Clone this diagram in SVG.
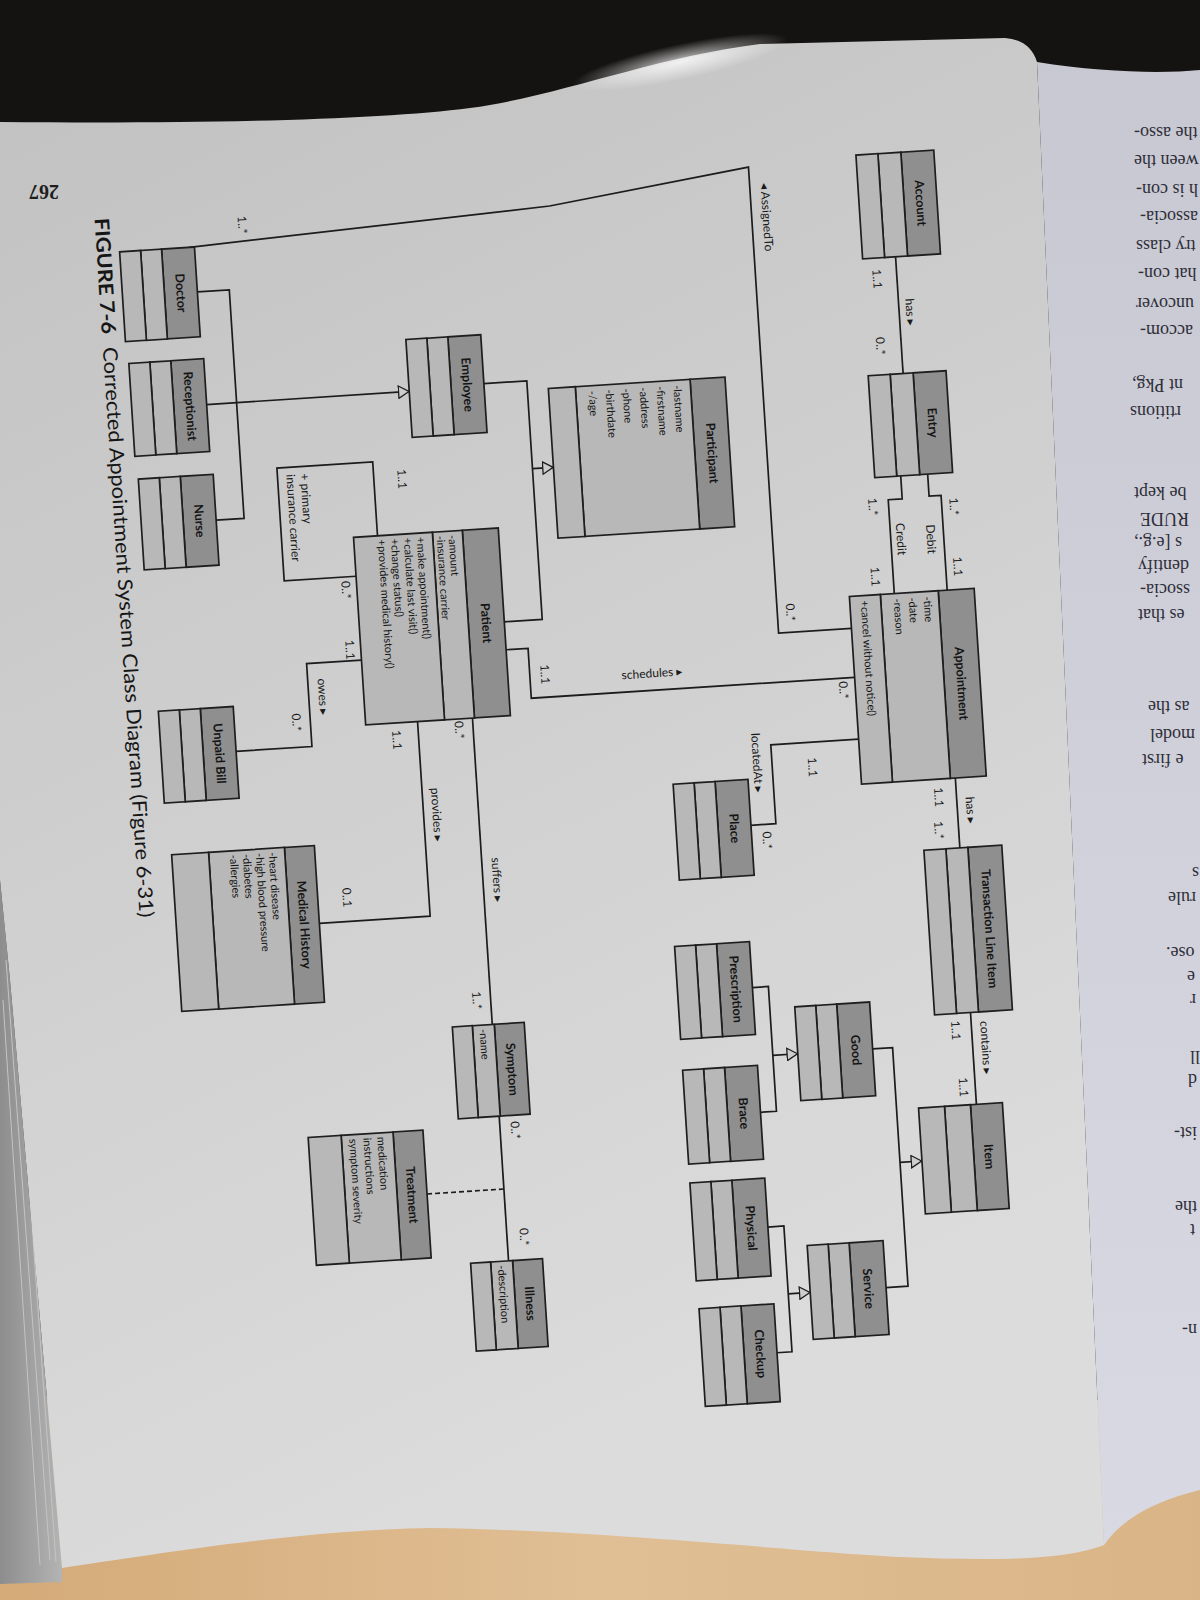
<svg xmlns="http://www.w3.org/2000/svg" width="1200" height="1600" viewBox="0 0 1200 1600">
<defs>
  <linearGradient id="paper" x1="0" y1="0" x2="0.35" y2="1">
    <stop offset="0" stop-color="#c1c1c1"/>
    <stop offset="0.5" stop-color="#cfcfcf"/>
    <stop offset="1" stop-color="#dcdcdd"/>
  </linearGradient>
  <linearGradient id="facing" x1="0" y1="0" x2="0" y2="1">
    <stop offset="0" stop-color="#c8c8d2"/>
    <stop offset="1" stop-color="#d9d9e3"/>
  </linearGradient>
  <linearGradient id="wood" x1="0" y1="0" x2="1" y2="0">
    <stop offset="0" stop-color="#d4aa78"/>
    <stop offset="0.5" stop-color="#e0bf95"/>
    <stop offset="1" stop-color="#d9b486"/>
  </linearGradient>
  <linearGradient id="stack" x1="0" y1="0" x2="1" y2="0">
    <stop offset="0" stop-color="#8d8d8d"/>
    <stop offset="1" stop-color="#b4b4b4"/>
  </linearGradient>
  <radialGradient id="glare" cx="0.5" cy="0.5" r="0.5">
    <stop offset="0" stop-color="#ffffff" stop-opacity="0.75"/>
    <stop offset="1" stop-color="#ffffff" stop-opacity="0"/>
  </radialGradient>
  <marker id="gen" viewBox="0 0 12 14" refX="11.5" refY="7" markerWidth="12" markerHeight="14" markerUnits="userSpaceOnUse" orient="auto">
    <path d="M0.8,0.8 L11.2,7 L0.8,13.2 Z" fill="#cdcdcd" stroke="#1e1e1e" stroke-width="1.3"/>
  </marker>
  <style>
    .hd{fill:#8f8f8f;stroke:#1e1e1e;stroke-width:1.7}
    .cp{fill:#b8b8b8;stroke:#1e1e1e;stroke-width:1.7}
    .nm{font-family:Lato,"Open Sans",sans-serif;font-size:12.5px;font-weight:700;fill:#151515;text-anchor:middle}
    .at{font-family:Lato,"Open Sans",sans-serif;font-size:11px;fill:#151515}
    .lb{font-family:Lato,"Open Sans","DejaVu Sans",sans-serif;font-size:12px;fill:#1a1a1a;text-anchor:middle}
    .ln{fill:none;stroke:#1c1c1c;stroke-width:1.7}
    .dash{fill:none;stroke:#1c1c1c;stroke-width:1.6;stroke-dasharray:5 3}
    .fp{font-family:"Liberation Serif",serif;font-size:18px;fill:#2e2e38;text-anchor:end}
    .cap{font-family:Lato,"Open Sans",sans-serif;font-size:20px;fill:#161616}
  </style>
</defs>

<!-- table and surroundings -->
<rect x="0" y="0" width="1200" height="1600" fill="#151312"/>
<rect x="0" y="1400" width="1200" height="200" fill="url(#wood)"/>

<!-- facing page -->
<path d="M1037,62 C1100,72 1160,74 1200,70 L1200,1490 C1160,1500 1125,1515 1104,1545 Z" fill="url(#facing)"/>

<!-- page edges of the book block -->
<path d="M0,880 L10,980 L62,1568 L62,1582 L0,1584 Z" fill="url(#stack)"/>
<path d="M6,960 L50,1560 M14,970 L56,1562 M3,1000 L40,1565" stroke="#c4c4c4" stroke-width="1" fill="none"/>

<!-- diagram page -->
<path d="M0,122 C200,124 380,120 470,108 C560,96 650,58 760,44 L1005,38 Q1030,40 1037,62 L1104,1545 C1060,1562 980,1560 900,1557 C800,1552 600,1530 430,1528 C300,1530 150,1555 62,1568 L10,980 L0,880 Z" fill="url(#paper)"/>
<ellipse cx="680" cy="62" rx="110" ry="18" fill="url(#glare)" transform="rotate(-12 680 62)"/>

<!-- facing page text -->
<g id="facing-text" class="fp">
  <text x="1134" y="127" transform="rotate(180 1134 127)">the asso-</text>
  <text x="1134" y="155" transform="rotate(180 1134 155)">ween the</text>
  <text x="1136" y="184" transform="rotate(180 1136 184)">h is con-</text>
  <text x="1140" y="211" transform="rotate(180 1140 211)">associa-</text>
  <text x="1136" y="240" transform="rotate(180 1136 240)">try class</text>
  <text x="1138" y="268" transform="rotate(180 1138 268)">hat con-</text>
  <text x="1136" y="298" transform="rotate(180 1136 298)">uncover</text>
  <text x="1140" y="325" transform="rotate(180 1140 325)">accom-</text>
  <text x="1132" y="379" transform="rotate(180 1132 379)">nt Pkg,</text>
  <text x="1130" y="406" transform="rotate(180 1130 406)">rtitions</text>
  <text x="1134" y="487" transform="rotate(180 1134 487)">be kept</text>
  <text x="1140" y="513" transform="rotate(180 1140 513)">RUDE</text>
  <text x="1134" y="537" transform="rotate(180 1134 537)">s [e.g.,</text>
  <text x="1138" y="560" transform="rotate(180 1138 560)">dentify</text>
  <text x="1140" y="584" transform="rotate(180 1140 584)">ssocia-</text>
  <text x="1138" y="609" transform="rotate(180 1138 609)">es that</text>
  <text x="1148" y="701" transform="rotate(180 1148 701)">as the</text>
  <text x="1150" y="729" transform="rotate(180 1150 729)">model</text>
  <text x="1142" y="754" transform="rotate(180 1142 754)">e first</text>
  <text x="1192" y="867" transform="rotate(180 1192 867)">s</text>
  <text x="1168" y="892" transform="rotate(180 1168 892)">rule</text>
  <text x="1166" y="947" transform="rotate(180 1166 947)">ose.</text>
  <text x="1187" y="971" transform="rotate(180 1187 971)">e</text>
  <text x="1190" y="994" transform="rotate(180 1190 994)">r</text>
  <text x="1190" y="1051" transform="rotate(180 1190 1051)">ll</text>
  <text x="1188" y="1074" transform="rotate(180 1188 1074)">d</text>
  <text x="1174" y="1127" transform="rotate(180 1174 1127)">ist-</text>
  <text x="1175" y="1201" transform="rotate(180 1175 1201)">the</text>
  <text x="1190" y="1224" transform="rotate(180 1190 1224)">t</text>
  <text x="1182" y="1324" transform="rotate(180 1182 1324)">n-</text>
</g>

<!-- page number -->
<text x="44" y="185" transform="rotate(180 44 185)" font-family="'Liberation Serif',serif" font-size="20" font-weight="700" fill="#1e1e1e" text-anchor="middle">267</text>

<!-- the figure, printed sideways on the page -->
<g id="figure" transform="rotate(-3.7 600 800) translate(1100 0) rotate(90)">

  <text class="cap" x="187" y="967" textLength="701" lengthAdjust="spacingAndGlyphs"><tspan font-weight="700">FIGURE 7-6</tspan><tspan dx="12">Corrected Appointment System Class Diagram (Figure 6-31)</tspan></text>

  <g id="connectors">
    <path class="ln" d="M222,874 L204,512 L178,311 L645,311 L645,238"/>
    <path class="ln" d="M277,170 L394,170"/>
    <path class="ln" d="M496,152 L518,152 L518,140 L613,140"/>
    <path class="ln" d="M496,179 L519,179 L519,193 L613,193"/>
    <path class="ln" d="M801,144 L871,144"/>
    <path class="ln" d="M1036,144 L1128,144"/>
    <path class="ln" d="M644,584 L644,562 L694,562 L694,238"/>
    <path class="ln" d="M756,238 L756,326 L835,326 L835,351"/>
    <path class="ln" d="M377,589 L377,546 L616,546 L616,584"/>
    <path class="ln" d="M465,546 L465,525" marker-end="url(#gen)"/>
    <path class="ln" d="M267,869 L267,837 L496,837 L496,865"/>
    <path class="ln" d="M380,867 L380,664" marker-end="url(#gen)"/>
    <path class="ln" d="M522,705 L448,705 L448,801 L561,801 L561,729"/>
    <path class="ln" d="M645,729 L645,784 L728,784 L728,860"/>
    <path class="ln" d="M710,677 L905,677 L905,788"/>
    <path class="ln" d="M710,622 L1017,622"/>
    <path class="ln" d="M1109,621 L1254,621"/>
    <path class="dash" d="M1182,621 L1182,698"/>
    <path class="ln" d="M1066,244 L1066,224 L1305,224 L1305,246"/>
    <path class="ln" d="M1181,224 L1181,202" marker-end="url(#gen)"/>
    <path class="ln" d="M997,360 L997,344 L1122,344 L1122,360"/>
    <path class="ln" d="M1066,344 L1066,319" marker-end="url(#gen)"/>
    <path class="ln" d="M1237,360 L1237,344 L1363,344 L1363,359"/>
    <path class="ln" d="M1305,344 L1305,322" marker-end="url(#gen)"/>

    <g id="connector-labels" class="lb">
      <text x="203" y="824">1..*</text>
      <text x="229" y="300">◂ AssignedTo</text>
      <text x="625" y="302">0..*</text>
      <text x="298" y="194">1..1</text>
      <text x="333" y="163">has ▸</text>
      <text x="365" y="195">0..*</text>
      <text x="530" y="132">1..*</text>
      <text x="561" y="157">Debit</text>
      <text x="590" y="132">1..1</text>
      <text x="525" y="213">1..*</text>
      <text x="559" y="187">Credit</text>
      <text x="595" y="215">1..1</text>
      <text x="819" y="166">1..1</text>
      <text x="834" y="135">has ▸</text>
      <text x="852" y="168">1..*</text>
      <text x="1053" y="164">1..1</text>
      <text x="1072" y="135">contains ▸</text>
      <text x="1110" y="160">1..1</text>
      <text x="671" y="551">1..1</text>
      <text x="681" y="440" transform="rotate(-90 681 440)">schedules ▸</text>
      <text x="706" y="254">0..*</text>
      <text x="781" y="290">1..1</text>
      <text x="773" y="345">locatedAt ▸</text>
      <text x="851" y="340">0..*</text>
      <text x="467" y="681">1..1</text>
      <text x="455" y="778" text-anchor="start">+ primary</text>
      <text x="455" y="792" text-anchor="start">insurance carrier</text>
      <text x="574" y="744">0..*</text>
      <text x="634" y="744">1..1</text>
      <text x="679" y="774">owes ▸</text>
      <text x="703" y="802">0..*</text>
      <text x="727" y="703">1..1</text>
      <text x="804" y="668">provides ▸</text>
      <text x="881" y="763">0..1</text>
      <text x="721" y="640">0..*</text>
      <text x="873" y="612">suffers ▸</text>
      <text x="992" y="640">1..*</text>
      <text x="1124" y="610">0..*</text>
      <text x="1231" y="608">0..*</text>
    </g>
  </g>

  <g id="account">
    <rect class="hd" x="173" y="125" width="104" height="33"/>
    <rect class="cp" x="173" y="158" width="104" height="23" fill="#adadad"/>
    <rect class="cp" x="173" y="181" width="104" height="22" fill="#adadad"/>
    <text class="nm" x="225" y="146">Account</text>
  </g>
  <g id="entry">
    <rect class="hd" x="394" y="127" width="102" height="33"/>
    <rect class="cp" x="394" y="160" width="102" height="23"/>
    <rect class="cp" x="394" y="183" width="102" height="22"/>
    <text class="nm" x="445" y="148">Entry</text>
  </g>
  <g id="appointment">
    <rect class="hd" x="613" y="113" width="188" height="36"/>
    <rect class="cp" x="613" y="149" width="188" height="58"/>
    <rect class="cp" x="613" y="207" width="188" height="31"/>
    <text class="nm" x="707" y="136">Appointment</text>
    <text class="at" x="618" y="164" font-size="12">-time</text>
    <text class="at" x="618" y="179" font-size="12">-date</text>
    <text class="at" x="618" y="194" font-size="12">-reason</text>
    <text class="at" x="618" y="227" font-size="12">+cancel without notice()</text>
  </g>
  <g id="transaction-line-item">
    <rect class="hd" x="871" y="102" width="165" height="34"/>
    <rect class="cp" x="871" y="136" width="165" height="22"/>
    <rect class="cp" x="871" y="158" width="165" height="22"/>
    <text class="nm" x="953.5" y="124">Transaction Line Item</text>
  </g>
  <g id="item">
    <rect class="hd" x="1128" y="118" width="106" height="32"/>
    <rect class="cp" x="1128" y="150" width="106" height="26"/>
    <rect class="cp" x="1128" y="176" width="106" height="26"/>
    <text class="nm" x="1181" y="139">Item</text>
  </g>
  <g id="good">
    <rect class="hd" x="1019" y="244" width="94" height="33"/>
    <rect class="cp" x="1019" y="277" width="94" height="21"/>
    <rect class="cp" x="1019" y="298" width="94" height="21"/>
    <text class="nm" x="1066" y="265">Good</text>
  </g>
  <g id="service">
    <rect class="hd" x="1258" y="246" width="94" height="34"/>
    <rect class="cp" x="1258" y="280" width="94" height="21"/>
    <rect class="cp" x="1258" y="301" width="94" height="21"/>
    <text class="nm" x="1305" y="268">Service</text>
  </g>
  <g id="place">
    <rect class="hd" x="789" y="351" width="96" height="33"/>
    <rect class="cp" x="789" y="384" width="96" height="21"/>
    <rect class="cp" x="789" y="405" width="96" height="21"/>
    <text class="nm" x="837" y="372">Place</text>
  </g>
  <g id="prescription">
    <rect class="hd" x="951" y="360" width="93" height="33"/>
    <rect class="cp" x="951" y="393" width="93" height="21"/>
    <rect class="cp" x="951" y="414" width="93" height="21"/>
    <text class="nm" x="997.5" y="381">Prescription</text>
  </g>
  <g id="brace">
    <rect class="hd" x="1075" y="360" width="94" height="33"/>
    <rect class="cp" x="1075" y="393" width="94" height="21"/>
    <rect class="cp" x="1075" y="414" width="94" height="21"/>
    <text class="nm" x="1122" y="381">Brace</text>
  </g>
  <g id="physical">
    <rect class="hd" x="1188" y="360" width="98" height="33"/>
    <rect class="cp" x="1188" y="393" width="98" height="21"/>
    <rect class="cp" x="1188" y="414" width="98" height="21"/>
    <text class="nm" x="1237" y="381">Physical</text>
  </g>
  <g id="checkup">
    <rect class="hd" x="1314" y="359" width="98" height="33"/>
    <rect class="cp" x="1314" y="392" width="98" height="21"/>
    <rect class="cp" x="1314" y="413" width="98" height="21"/>
    <text class="nm" x="1363" y="380">Checkup</text>
  </g>
  <g id="symptom">
    <rect class="hd" x="1017" y="590" width="92" height="30"/>
    <rect class="cp" x="1017" y="620" width="92" height="22"/>
    <rect class="cp" x="1017" y="642" width="92" height="20"/>
    <text class="nm" x="1063" y="609.5">Symptom</text>
    <text class="at" x="1021" y="635">-name</text>
  </g>
  <g id="illness">
    <rect class="hd" x="1254" y="587" width="88" height="30"/>
    <rect class="cp" x="1254" y="617" width="88" height="22"/>
    <rect class="cp" x="1254" y="639" width="88" height="20"/>
    <text class="nm" x="1298" y="606.5">Illness</text>
    <text class="at" x="1258" y="632">-description</text>
  </g>
  <g id="treatment">
    <rect class="hd" x="1118" y="698" width="128" height="30"/>
    <rect class="cp" x="1118" y="728" width="128" height="52"/>
    <rect class="cp" x="1118" y="780" width="128" height="33"/>
    <text class="nm" x="1182" y="717.5">Treatment</text>
    <text class="at" x="1122" y="744" font-size="12">medication</text>
    <text class="at" x="1122" y="758" font-size="12">instructions</text>
    <text class="at" x="1122" y="772" font-size="12">symptom severity</text>
  </g>
  <g id="medical-history">
    <rect class="hd" x="827" y="788" width="157" height="30"/>
    <rect class="cp" x="827" y="818" width="157" height="76"/>
    <rect class="cp" x="827" y="894" width="157" height="37"/>
    <text class="nm" x="905.5" y="807.5">Medical History</text>
    <text class="at" x="831" y="834" font-size="11.5">-heart disease</text>
    <text class="at" x="831" y="847" font-size="11.5">-high blood pressure</text>
    <text class="at" x="831" y="860" font-size="11.5">-diabetes</text>
    <text class="at" x="831" y="873" font-size="11.5">-allergies</text>
  </g>
  <g id="unpaid-bill">
    <rect class="hd" x="683" y="860" width="92" height="33"/>
    <rect class="cp" x="683" y="893" width="92" height="21"/>
    <rect class="cp" x="683" y="914" width="92" height="21"/>
    <text class="nm" x="729" y="881">Unpaid Bill</text>
  </g>
  <g id="patient">
    <rect class="hd" x="522" y="584" width="188" height="36"/>
    <rect class="cp" x="522" y="620" width="188" height="30"/>
    <rect class="cp" x="522" y="650" width="188" height="79"/>
    <text class="nm" x="616" y="606.5">Patient</text>
    <text class="at" x="526" y="634">-amount</text>
    <text class="at" x="526" y="646">-insurance carrier</text>
    <text class="at" x="526" y="666">+make appointment()</text>
    <text class="at" x="526" y="679">+calculate last visit()</text>
    <text class="at" x="526" y="692">+change status()</text>
    <text class="at" x="526" y="705">+provides medical history()</text>
  </g>
  <g id="employee">
    <rect class="hd" x="328" y="589" width="98" height="33"/>
    <rect class="cp" x="328" y="622" width="98" height="21"/>
    <rect class="cp" x="328" y="643" width="98" height="21"/>
    <text class="nm" x="377" y="610">Employee</text>
  </g>
  <g id="participant">
    <rect class="hd" x="386" y="348" width="150" height="35"/>
    <rect class="cp" x="386" y="383" width="150" height="115"/>
    <rect class="cp" x="386" y="498" width="150" height="27"/>
    <text class="nm" x="461" y="370">Participant</text>
    <text class="at" x="391" y="400" font-size="12">-lastname</text>
    <text class="at" x="391" y="417" font-size="12">-firstname</text>
    <text class="at" x="391" y="434" font-size="12">-address</text>
    <text class="at" x="391" y="451" font-size="12">-phone</text>
    <text class="at" x="391" y="468" font-size="12">-birthdate</text>
    <text class="at" x="391" y="485" font-size="12">-/age</text>
  </g>
  <g id="doctor">
    <rect class="hd" x="222" y="869" width="90" height="33"/>
    <rect class="cp" x="222" y="902" width="90" height="21"/>
    <rect class="cp" x="222" y="923" width="90" height="21"/>
    <text class="nm" x="267" y="890">Doctor</text>
  </g>
  <g id="receptionist">
    <rect class="hd" x="334" y="867" width="93" height="33"/>
    <rect class="cp" x="334" y="900" width="93" height="21"/>
    <rect class="cp" x="334" y="921" width="93" height="21"/>
    <text class="nm" x="380.5" y="888">Receptionist</text>
  </g>
  <g id="nurse">
    <rect class="hd" x="450" y="865" width="91" height="33"/>
    <rect class="cp" x="450" y="898" width="91" height="21"/>
    <rect class="cp" x="450" y="919" width="91" height="21"/>
    <text class="nm" x="495.5" y="886">Nurse</text>
  </g>
</g>
</svg>
